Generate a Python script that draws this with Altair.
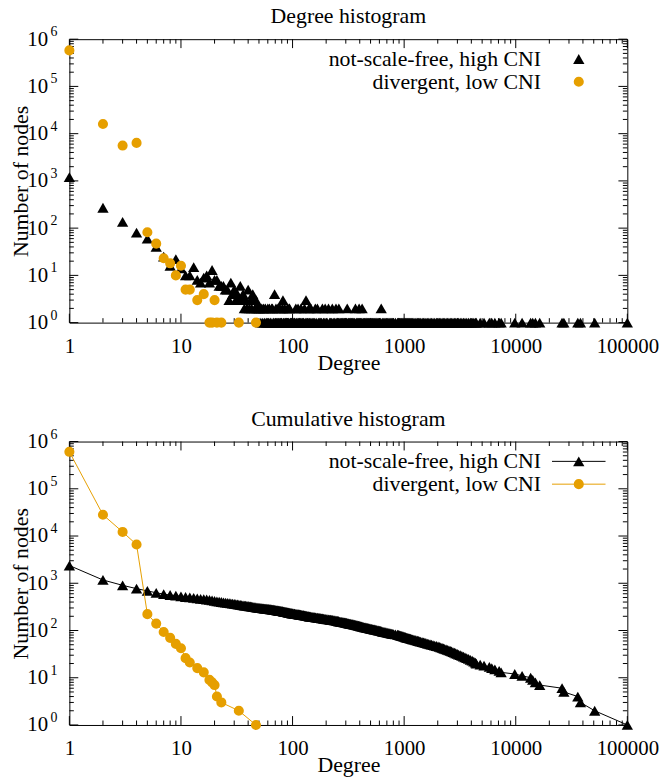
import altair as alt
import pandas as pd

FONT = "Liberation Serif"
ORANGE = "#E69F00"

TITLES = ["Degree histogram", "Cumulative histogram"]
SERIES = ["not-scale-free, high CNI", "divergent, low CNI"]
X_TITLE = "Degree"
Y_TITLE = "Number of nodes"
X_MAJOR = [1, 10, 100, 1000, 10000, 100000]
Y_MAJOR = [1, 10, 100, 1000, 10000, 100000, 1000000]
Y_EXPONENTS = ["0", "1", "2", "3", "4", "5", "6"]

# ---------------- black series: not-scale-free, high CNI (degree histogram) -------------
nsf_deg_low = [1, 2, 3, 4, 5, 6, 7, 8, 9, 10, 11, 12, 13, 14, 15, 16, 17, 18, 19, 20,
               21, 22, 23, 24, 25, 26, 27, 28, 29, 30, 31, 32, 33, 34]
nsf_cnt_low = [1200, 270, 135, 80, 60, 40, 25, 16, 22, 14, 10, 10, 15, 8, 7, 9, 10, 7, 13, 8,
               8, 6, 6, 6, 5, 5, 3, 7, 4, 5, 3, 4, 3, 6]
nsf_deg_mid = [35, 36, 37, 38, 39, 40, 41, 42, 43, 44, 45, 46, 47, 48, 49, 50, 51,
               52, 53, 54, 55, 56, 57, 58, 59, 60, 61, 62, 63, 64, 65, 66, 67, 68,
               69, 70, 71, 72, 73, 74, 75, 76, 77, 78, 79, 80, 81, 82, 83, 84, 85,
               86, 87, 88, 89, 90, 91, 92, 93, 94, 95, 96, 97, 98, 99]
nsf_cnt_mid = [3, 4, 2, 3, 2, 5, 2, 3, 2, 4, 3, 2, 3, 2, 2, 2, 2,
               1, 2, 1, 2, 1, 2, 1, 1, 2, 1, 2, 1, 1, 2, 2, 1, 1,
               4, 1, 2, 1, 1, 2, 1, 1, 2, 1, 1, 1, 2, 3, 1, 1, 2,
               1, 1, 1, 1, 2, 1, 1, 2, 2, 1, 1, 1, 1, 1]
nsf_deg_twice = [107, 112, 119, 128, 140, 146, 160, 167, 185, 196, 210, 227, 245,
                 260, 309, 366, 395, 420, 623]
nsf_deg_thrice = [132]
nsf_deg_once = [
    100, 101, 103, 104, 105, 108, 110, 113, 115, 116, 118, 121, 123, 125, 126,
    130, 134, 136, 138, 142, 144, 149, 152, 155, 158, 163, 170, 173, 176, 179,
    182, 189, 192, 200, 204, 215, 219, 223, 231, 236, 240, 249, 252, 255, 258,
    265, 270, 274, 279, 283, 288, 292, 297, 301, 305, 314, 318, 323, 328, 333,
    338, 343, 348, 354, 360, 372, 378, 384, 390, 401, 407, 414, 427, 434, 441,
    448, 456, 463, 471, 479, 487, 495, 504, 512, 521, 530, 540, 550, 560, 570,
    581, 592, 603, 614, 636, 648, 661, 675, 689, 704, 719, 735, 751, 768, 786,
    805, 835, 872, 885, 897, 912, 930, 944, 961, 978, 995, 1013, 1030, 1052, 1071,
    1093, 1118, 1140, 1166, 1190, 1221, 1252, 1280, 1318, 1345, 1380, 1410, 1452, 1490,
    1535, 1570, 1615, 1662, 1710, 1760, 1815, 1880, 1945, 2013, 2070, 2130, 2190, 2250,
    2310, 2380, 2450, 2520, 2590, 2660, 2740, 2820, 2900, 2990, 3080, 3180, 3290, 3400,
    3510, 3640, 3780, 3920, 4070, 4210, 4350, 4430, 4800, 5200, 5800, 6100, 6500, 7100,
    7400, 9800, 11400, 13600, 14200, 15000, 16400, 26000, 27000, 36000, 38000, 51000,
    100000]

# ---------------- orange series: divergent, low CNI (degree histogram) -------------------
div_deg = [1, 2, 3, 4, 5, 6, 7, 8, 9, 10, 11, 12, 14, 16, 18, 19, 20, 21, 23, 33, 47]
div_cnt = [578000, 16000, 5600, 6380, 82, 47, 23, 18, 10, 16, 5, 5, 3, 4, 1, 1, 3, 1, 1, 1, 1]

nsf_degree = nsf_deg_low + nsf_deg_mid + nsf_deg_twice + nsf_deg_thrice + nsf_deg_once
nsf_count = (nsf_cnt_low + nsf_cnt_mid + [2] * len(nsf_deg_twice)
             + [3] * len(nsf_deg_thrice) + [1] * len(nsf_deg_once))

nsf = pd.DataFrame({"degree": nsf_degree, "count": nsf_count})
div = pd.DataFrame({"degree": div_deg, "count": div_cnt})

X_MINOR = [m * d for d in [1, 10, 100, 1000, 10000] for m in range(2, 10)]
Y_MINOR = [m * d for d in [1, 10, 100, 1000, 10000, 100000] for m in range(2, 10)]

W, H = 563, 286
MAJ, MIN = 9, 4.5
FS = 21      # tick labels
FT = 22      # titles, axis titles, legend
FE = 14      # exponents

xs = alt.Scale(type="log", domain=[1, 100000], nice=False)
ys = alt.Scale(type="log", domain=[1, 1000000], nice=False)

x_axis = alt.Axis(values=X_MAJOR, format="d", ticks=False, tickSize=0, domain=False, grid=False,
                  labelFont=FONT, labelFontSize=FS, labelColor="black", labelPadding=13,
                  labelFlush=False, labelOverlap=False,
                  title=X_TITLE, titleFont=FONT, titleFontSize=FT, titleFontWeight="normal",
                  titleColor="black", titlePadding=-4)
y_axis = alt.Axis(values=Y_MAJOR, labelExpr="'10'", ticks=False, tickSize=0, domain=False,
                  grid=False, labelFont=FONT, labelFontSize=FS, labelColor="black",
                  labelPadding=22, labelFlush=False, labelOverlap=False,
                  title=Y_TITLE, titleFont=FONT, titleFontSize=FT, titleFontWeight="normal",
                  titleColor="black", titlePadding=-6)


def X(field):
    return alt.X(field, type="quantitative", scale=xs, axis=x_axis)


def Y(field):
    return alt.Y(field, type="quantitative", scale=ys, axis=y_axis)


def tick_layers():
    xmaj = alt.Chart(pd.DataFrame({"v": X_MAJOR}))
    xmin = alt.Chart(pd.DataFrame({"v": X_MINOR}))
    ymaj = alt.Chart(pd.DataFrame({"v": Y_MAJOR}))
    ymin = alt.Chart(pd.DataFrame({"v": Y_MINOR}))
    out = []
    for src, ln in [(xmaj, MAJ), (xmin, MIN)]:
        out.append(src.mark_rule(color="black", strokeWidth=1).encode(
            x=X("v"), y=alt.value(H), y2=alt.value(H - ln)))
        out.append(src.mark_rule(color="black", strokeWidth=1).encode(
            x=X("v"), y=alt.value(0), y2=alt.value(ln)))
    for src, ln in [(ymaj, MAJ), (ymin, MIN)]:
        out.append(src.mark_rule(color="black", strokeWidth=1).encode(
            y=Y("v"), x=alt.value(0), x2=alt.value(ln)))
        out.append(src.mark_rule(color="black", strokeWidth=1).encode(
            y=Y("v"), x=alt.value(W), x2=alt.value(W - ln)))
    # superscript exponents of the y tick labels (10^k)
    exp_df = pd.DataFrame({"v": Y_MAJOR, "e": Y_EXPONENTS})
    out.append(alt.Chart(exp_df).mark_text(align="left", baseline="middle", font=FONT,
                                           fontSize=FE, color="black", dy=-7).encode(
        y=Y("v"), x=alt.value(-19), text="e:N"))
    return out


def legend_layers(with_line):
    out = []
    specs = [(SERIES[0], "black", "triangle-up", 130, 20),
             (SERIES[1], ORANGE, "circle", 104, 43)]
    for name, color, shape, size, yy in specs:
        d = alt.Chart(pd.DataFrame({"name": [name]}))
        out.append(d.mark_text(align="right", baseline="middle", font=FONT, fontSize=FT,
                               color="black").encode(text="name:N", x=alt.value(476),
                                                      y=alt.value(yy)))
        if with_line:
            out.append(d.mark_rule(color=color, strokeWidth=1).encode(
                x=alt.value(487), x2=alt.value(541), y=alt.value(yy)))
        out.append(d.mark_point(shape=shape, filled=True, size=size, color=color,
                                opacity=1, strokeWidth=0).encode(
            x=alt.value(514), y=alt.value(yy)))
    return out


def title(t):
    return alt.TitleParams(t, font=FONT, fontSize=FT, fontWeight="normal", color="black",
                           anchor="middle", offset=-3)


# ---------------- top: degree histogram ----------------
top_black = alt.Chart(nsf).mark_point(shape="triangle-up", filled=True, size=130,
                                      color="black", opacity=1, strokeWidth=0).encode(
    x=X("degree"), y=Y("count"))
top_orange = alt.Chart(div).mark_circle(size=104, color=ORANGE, opacity=1).encode(
    x=X("degree"), y=Y("count"))

top = alt.layer(*tick_layers(), top_black, top_orange, *legend_layers(False)).properties(
    width=W, height=H, title=title(TITLES[0]))

# ---------------- bottom: cumulative histogram ----------------
def cumulative(df):
    return alt.Chart(df).transform_window(
        cum="sum(count)", sort=[alt.SortField("degree", order="descending")],
        frame=[None, 0])

bot_black_line = cumulative(nsf).mark_line(color="black", strokeWidth=1).encode(
    x=X("degree"), y=Y("cum"), order="degree:Q")
bot_black_pts = cumulative(nsf).mark_point(shape="triangle-up", filled=True, size=130,
                                           color="black", opacity=1, strokeWidth=0).encode(
    x=X("degree"), y=Y("cum"))
bot_orange_line = cumulative(div).mark_line(color=ORANGE, strokeWidth=1).encode(
    x=X("degree"), y=Y("cum"), order="degree:Q")
bot_orange_pts = cumulative(div).mark_circle(size=104, color=ORANGE, opacity=1).encode(
    x=X("degree"), y=Y("cum"))

bottom = alt.layer(*tick_layers(), bot_black_line, bot_black_pts, bot_orange_line,
                   bot_orange_pts, *legend_layers(True)).properties(
    width=W, height=H, title=title(TITLES[1]))

chart = alt.vconcat(top, bottom, spacing=33).properties(
    padding={"left": 9, "top": 1, "right": 5, "bottom": 2},
    background="white",
).configure_view(stroke="black", strokeWidth=1)

chart.save("out.html", embed_options={"renderer": "svg", "actions": False})
